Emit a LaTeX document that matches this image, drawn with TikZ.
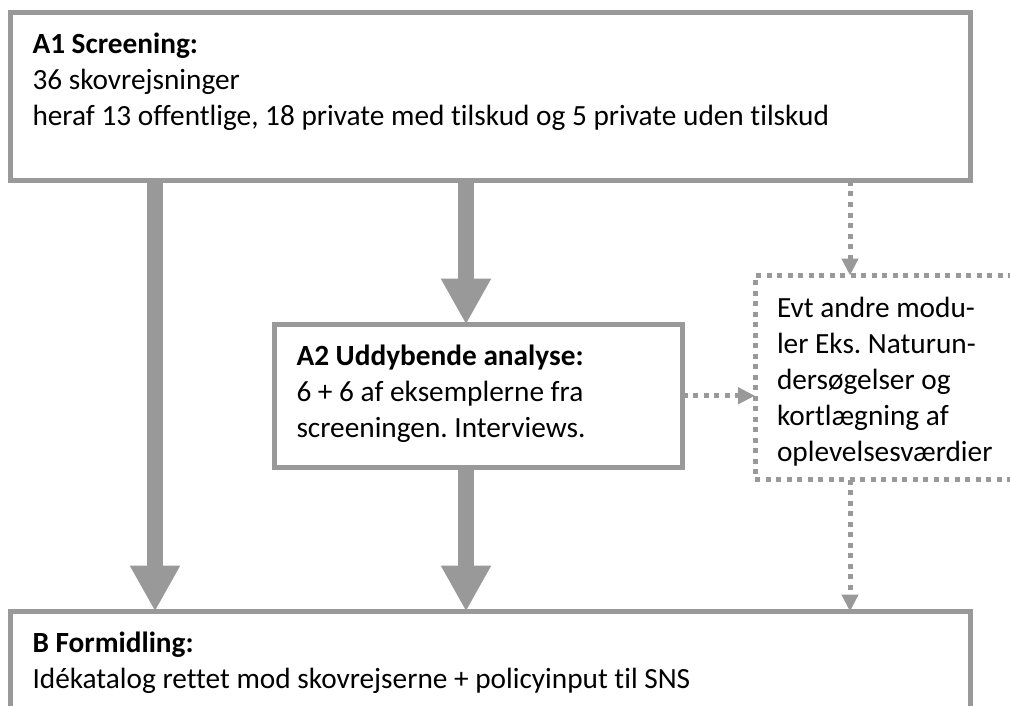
\documentclass[tikz,border=0pt]{standalone}
\usepackage{fontspec}
\setmainfont{Carlito}[Ligatures={NoCommon}]
\usetikzlibrary{arrows.meta}
\definecolor{lg}{HTML}{999999}
\newcommand\mystrut{\rule{0pt}{24pt}}
\frenchspacing
\begin{document}
\begin{tikzpicture}[x=1pt,y=-1pt,
  box/.style={draw=lg, line width=5pt, inner sep=0pt, outer sep=0pt, anchor=north west},
  dotbox/.style={box, dash pattern=on 5pt off 5.5pt},
  txt/.style={anchor=north west, inner sep=0pt, outer sep=0pt, align=left, font=\fontsize{29.3}{36}\selectfont},
  bigarrow/.style={draw=lg, line width=16pt, -{Triangle[width=47pt,length=46pt]}},
  dotarrow/.style={draw=lg, line width=5pt, dash pattern=on 5pt off 5.5pt, -{Triangle[width=16pt,length=17pt]}}
]
\useasboundingbox (0,0) rectangle (1010,706);
\clip (0,0) rectangle (1010,706);

% boxes
\node[box, minimum width=960pt, minimum height=168pt] (A1) at (10.5,13) {};
\node[box, minimum width=408pt, minimum height=142.5pt] (A2) at (274.5,324.5) {};
\node[dotbox, minimum width=300pt, minimum height=204pt] (E) at (755,275.5) {};
\node[box, minimum width=960pt, minimum height=200pt] (B) at (10.5,611.5) {};

% texts
\node[txt] (A1t) at ([shift={(22,17)}]A1.north west)
  {\mystrut\textbf{A1 Screening:}\\36 skovrejsninger\\heraf 13 offentlige, 18 private med tilskud og 5 private uden tilskud};
\node[txt] (A2t) at ([shift={(22,16.5)}]A2.north west)
  {\mystrut\textbf{A2 Uddybende analyse:}\\6 + 6 af eksemplerne fra\\screeningen. Interviews.};
\node[txt] (Et) at ([shift={(22,17.5)}]E.north west)
  {\mystrut Evt andre modu-\\ler Eks. Naturun-\\dersøgelser og\\kortlægning af\\oplevelsesværdier};
\node[txt] (Bt) at ([shift={(22,16.5)}]B.north west)
  {\mystrut\textbf{B Formidling:}\\Idékatalog rettet mod skovrejserne + policyinput til SNS};

% connectors
\draw[bigarrow] (A1.south -| 155,0) -- (B.north -| 155,0);
\draw[bigarrow] (A1.south -| 466,0) -- (A2.north -| 466,0);
\draw[bigarrow] (A2.south -| 466,0) -- (B.north -| 466,0);
\draw[dotarrow] (A1.south -| 850,0) -- (E.north -| 850,0);
\draw[dotarrow] (A2.east) -- (E.west |- A2.east);
\draw[dotarrow] (E.south -| 850,0) -- (B.north -| 850,0);
\end{tikzpicture}
\end{document}
